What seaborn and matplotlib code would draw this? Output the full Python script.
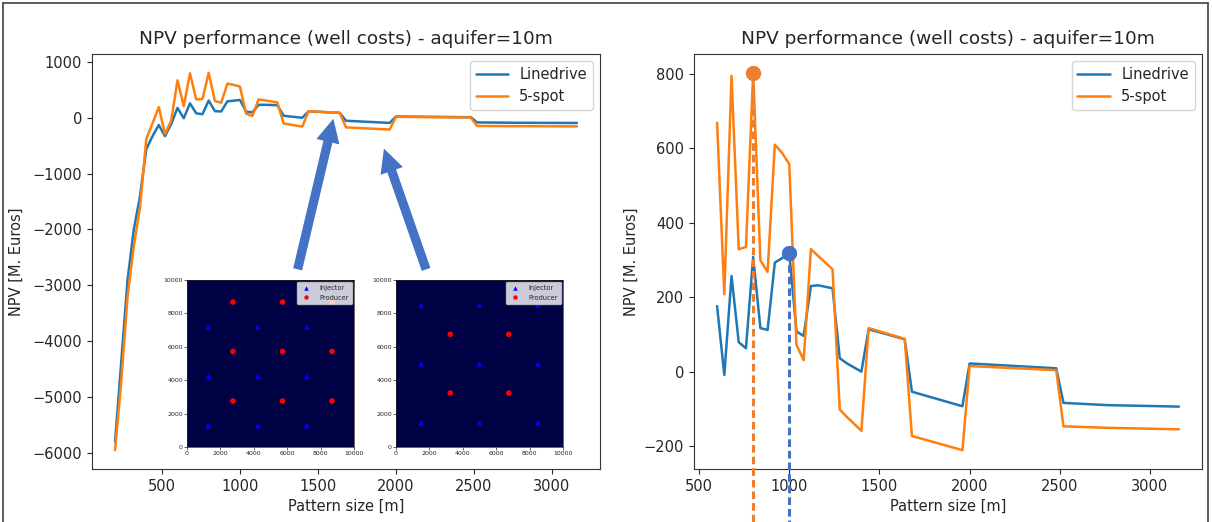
import numpy as np
import pandas as pd
import matplotlib
matplotlib.use("Agg")
import matplotlib.pyplot as plt
from matplotlib.lines import Line2D
from matplotlib.patches import FancyArrowPatch
import seaborn as sns

sns.set_style("ticks")
plt.rcParams["font.family"] = ["DejaVu Sans"]

# Pattern sizes [m] and NPV [M. Euros] for both well layouts
pattern_size = [200, 240, 280, 320, 360, 400, 440, 480, 520, 560,
                600, 640, 680, 720, 760, 800, 840, 880, 920, 960,
                1000, 1040, 1080, 1120, 1160, 1240, 1280, 1320, 1400, 1440,
                1640, 1680, 1960, 2000, 2480, 2520, 2760, 3160]
npv_linedrive = [-5800, -4350, -2900, -2000, -1400, -560, -330, -130, -330, -110,
                 176, -9, 257, 79, 63, 308, 117, 112, 293, 305,
                 319, 108, 96, 230, 232, 224, 36, 22, 0, 114,
                 87, -54, -93, 22, 9, -84, -90, -94]
npv_5spot = [-5950, -4700, -3200, -2300, -1600, -380, -100, 190, -290, -50,
             669, 208, 795, 329, 335, 803, 299, 268, 610, 588,
             558, 72, 31, 329, 311, 275, -102, -122, -159, 117,
             88, -173, -211, 15, 4, -147, -151, -155]
series_names = ["Linedrive", "5-spot"]

# Well locations of two example layouts (x, y in m)
layout_a_inj_x = [1270, 4230, 7180, 1270, 4230, 7180, 1270, 4230, 7180]
layout_a_inj_y = [1270, 1270, 1270, 4230, 4230, 4230, 7180, 7180, 7180]
layout_a_prod_x = [2750, 5720, 8680, 2750, 5720, 8680, 2750, 5720, 8680]
layout_a_prod_y = [2750, 2750, 2750, 5720, 5720, 5720, 8680, 8680, 8680]
layout_b_inj_x = [1500, 5000, 8500, 1500, 5000, 8500, 1500, 5000, 8500]
layout_b_inj_y = [1450, 1450, 1450, 4980, 4980, 4980, 8500, 8500, 8500]
layout_b_prod_x = [3250, 6750, 3250, 6750]
layout_b_prod_y = [3230, 3230, 6750, 6750]

best_5spot = (800, 803)
best_linedrive = (1000, 319)

W, H = 1212, 522
fig = plt.figure(figsize=(W / 100, H / 100), dpi=100)
fig.patch.set_facecolor("white")


def box(x0, y0, x1, y1):
    return [x0 / W, 1 - y1 / H, (x1 - x0) / W, (y1 - y0) / H]


df = pd.DataFrame({
    "size": pattern_size * 2,
    "npv": npv_linedrive + npv_5spot,
    "pattern": [series_names[0]] * len(pattern_size) + [series_names[1]] * len(pattern_size),
})
palette = {"Linedrive": "#1f77b4", "5-spot": "#ff7f0e"}

TITLE = "NPV performance (well costs) - aquifer=10m"
FS = 10.5


def npv_axes(ax, data):
    sns.lineplot(data=data, x="size", y="npv", hue="pattern", palette=palette,
                 linewidth=1.8, ax=ax, legend=True)
    ax.set_title(TITLE, fontsize=13.3, pad=7)
    ax.set_xlabel("Pattern size [m]", fontsize=FS)
    ax.set_ylabel("NPV [M. Euros]", fontsize=FS)
    ax.tick_params(labelsize=FS)
    for s in ax.spines.values():
        s.set_visible(True)
        s.set_color("#333333")
    h, l = ax.get_legend_handles_labels()
    ax.legend(h, l, loc="upper right", fontsize=FS, handlelength=2.2)


ax1 = fig.add_axes(box(92, 54, 600, 469))
npv_axes(ax1, df)
ax1.yaxis.set_label_coords(-0.135, 0.5)

ax2 = fig.add_axes(box(694, 54, 1202, 469))
npv_axes(ax2, df[df["size"] >= 600])

# Optimum markers with dashed drop lines to the bottom edge
for (bx, by), col in [(best_5spot, "#ED7D31"), (best_linedrive, "#4472C4")]:
    ax2.plot([bx, bx], [by, -700], ls=(0, (2.5, 1.3)), lw=2.2, color=col,
             clip_on=False, zorder=5, scalex=False, scaley=False)
    ax2.plot([bx], [by], marker="o", ms=10, color=col, clip_on=False,
             zorder=6, scalex=False, scaley=False)


def layout_axes(rect, inj_x, inj_y, prod_x, prod_y):
    ax = fig.add_axes(rect)
    ax.set_facecolor("#000045")
    wells = pd.DataFrame({
        "x": list(inj_x) + list(prod_x),
        "y": list(inj_y) + list(prod_y),
        "kind": ["Injector"] * len(inj_x) + ["Producer"] * len(prod_x),
    })
    sns.scatterplot(data=wells, x="x", y="y", hue="kind", style="kind",
                    markers={"Injector": "^", "Producer": "o"},
                    palette={"Injector": "blue", "Producer": "red"},
                    s=16, linewidth=0, ax=ax)
    ax.set_xlim(0, 10000)
    ax.set_ylim(0, 10000)
    ax.set_xticks(range(0, 10001, 2000))
    ax.set_yticks(range(0, 10001, 2000))
    ax.tick_params(labelsize=4.5, length=2, width=0.5, pad=1)
    ax.set_xlabel("")
    ax.set_ylabel("")
    for s in ax.spines.values():
        s.set_linewidth(0.5)
    h, l = ax.get_legend_handles_labels()
    ax.legend(h, l, loc="upper right", fontsize=4.8, markerscale=0.8,
              borderpad=0.45, labelspacing=0.55, handletextpad=1.0,
              borderaxespad=0.3)
    return ax


layout_axes(box(187, 280, 354, 447), layout_a_inj_x, layout_a_inj_y,
            layout_a_prod_x, layout_a_prod_y)
layout_axes(box(396, 280, 563, 447), layout_b_inj_x, layout_b_inj_y,
            layout_b_prod_x, layout_b_prod_y)

# Arrows pointing from the layouts to their pattern size on the curve
for tail, tip in [((297, 272), (334, 116)), ((427, 272), (383, 146))]:
    fig.add_artist(FancyArrowPatch(
        (tail[0], H - tail[1]), (tip[0], H - tip[1]),
        transform=None,
        arrowstyle="simple,head_length=0.85,head_width=0.85,tail_width=0.33",
        mutation_scale=20, color="#4472C4", lw=0))

# Slide frame
frame_kw = dict(color="#404040", lw=1.2, transform=fig.transFigure)
fig.add_artist(Line2D([3 / W, 3 / W], [0, 1 - 3 / H], **frame_kw))
fig.add_artist(Line2D([3 / W, 1208 / W], [1 - 3 / H, 1 - 3 / H], **frame_kw))
fig.add_artist(Line2D([1208 / W, 1208 / W], [0, 1 - 3 / H], **frame_kw))

fig.savefig("out.png", dpi=100)
